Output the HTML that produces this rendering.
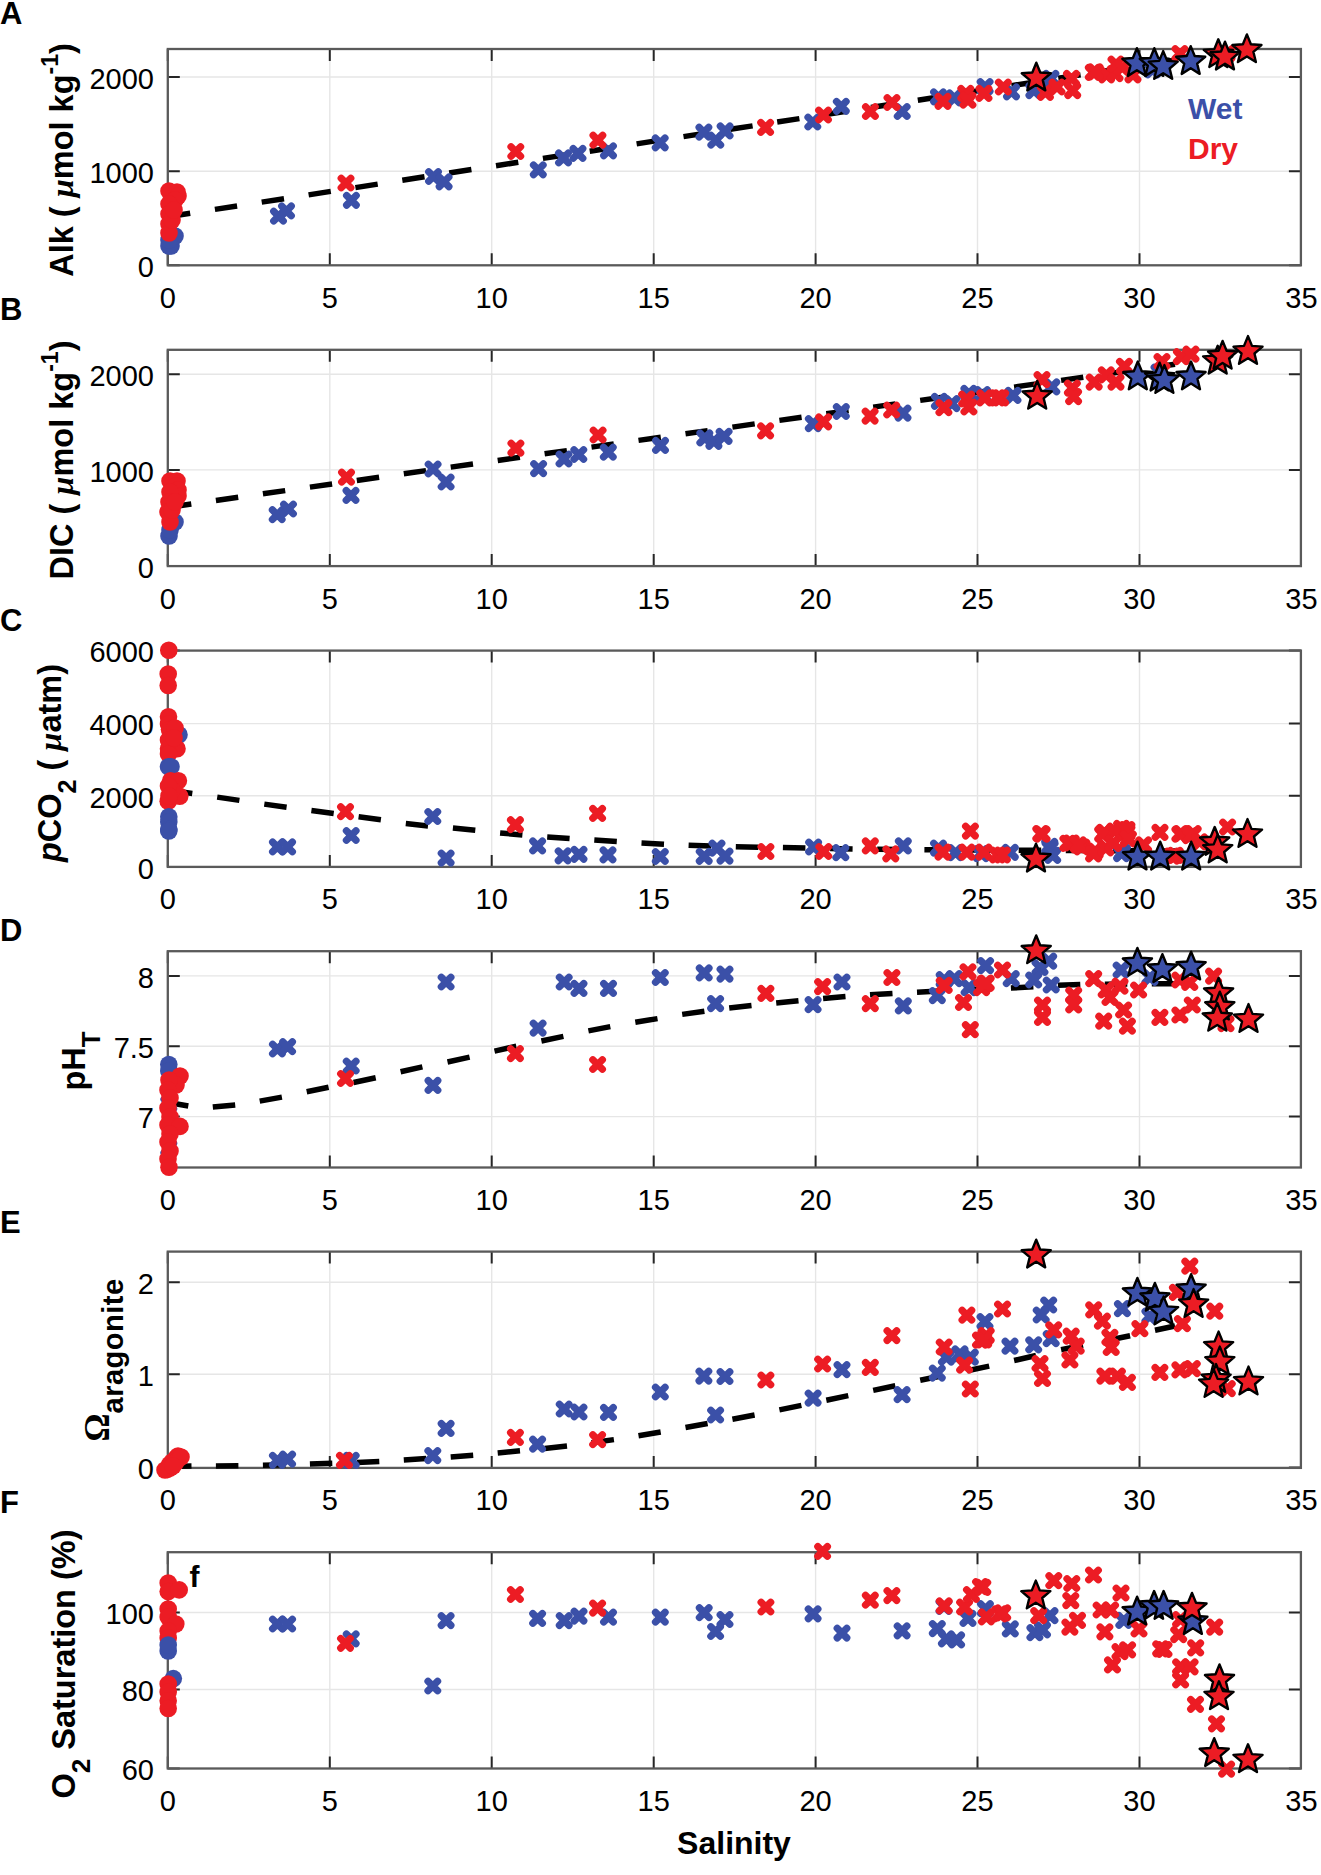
<!DOCTYPE html><html><head><meta charset="utf-8"><style>html,body{margin:0;padding:0;background:#fff;}svg{display:block}</style></head><body>
<svg width="1321" height="1875" viewBox="0 0 1321 1875" font-family="&quot;Liberation Sans&quot;, sans-serif">
<rect width="100%" height="100%" fill="#fff"/>
<defs>
<path id="st" d="M0.00,-15.30 L4.00,-5.50 L14.55,-4.73 L6.47,2.10 L8.99,12.38 L0.00,6.80 L-8.99,12.38 L-6.47,2.10 L-14.55,-4.73 L-4.00,-5.50Z" stroke="#000" stroke-width="2.4" stroke-linejoin="round"/>
<path id="xx" d="M-4.8 -4.8L4.8 4.8M-4.8 4.8L4.8 -4.8" stroke-width="7.2" stroke-linecap="round" fill="none"/>
</defs>
<path d="M329.8 49V265.3M491.7 49V265.3M653.7 49V265.3M815.6 49V265.3M977.5 49V265.3M1139.5 49V265.3M167.8 171.2H1300.9M167.8 77H1300.9" stroke="#e6e6e6" stroke-width="1.4" fill="none"/>
<path d="M167.8 265.3v-12M167.8 49v12M329.8 265.3v-12M329.8 49v12M491.7 265.3v-12M491.7 49v12M653.7 265.3v-12M653.7 49v12M815.6 265.3v-12M815.6 49v12M977.5 265.3v-12M977.5 49v12M1139.5 265.3v-12M1139.5 49v12M167.8 265.3h12M1300.9 265.3h-12M167.8 171.2h12M1300.9 171.2h-12M167.8 77h12M1300.9 77h-12" stroke="#262626" stroke-width="2" fill="none"/>
<rect x="167.8" y="49" width="1133.1" height="216.3" fill="none" stroke="#5a5a5a" stroke-width="2.3"/>
<path d="M168.0 216.7L190.2 213.2M214.9 209.4L237.1 206.0M261.7 202.1L284.0 198.7M308.6 194.9L330.8 191.4M355.4 187.6L377.7 184.1M402.3 180.3L424.5 176.8M449.2 173.0L471.4 169.5M496.0 165.7L518.3 162.3M542.9 158.4L565.1 155.0M589.7 151.2L612.0 147.7M636.6 143.9L658.8 140.4M683.5 136.6L705.7 133.1M730.3 129.3L752.6 125.9M777.2 122.0L799.4 118.6M824.0 114.7L846.3 111.3M870.9 107.5L893.1 104.0M917.8 100.2L940.0 96.7M964.6 92.9L986.9 89.4M1011.5 85.6L1033.7 82.2M1058.3 78.3L1080.6 74.9M1105.2 71.0L1127.4 67.6M1152.1 63.8L1174.3 60.3" fill="none" stroke="#000" stroke-width="5.5"/>
<g stroke="#3b50a8"></g>
<g fill="#3b50a8"><circle cx="169" cy="246" r="8.8"/><circle cx="171" cy="246" r="8.8"/><circle cx="175" cy="236" r="8.8"/><circle cx="169" cy="240" r="8.8"/></g>
<g fill="#ec1c24"><circle cx="169" cy="191" r="8.8"/><circle cx="177" cy="192" r="8.8"/><circle cx="178" cy="196" r="8.8"/><circle cx="175" cy="200" r="8.8"/><circle cx="169" cy="204" r="8.8"/><circle cx="169" cy="214" r="8.8"/><circle cx="169" cy="224" r="8.8"/><circle cx="169" cy="233" r="8.8"/><circle cx="172" cy="220" r="8.8"/><circle cx="174" cy="210" r="8.8"/></g>
<g stroke="#3b50a8"><use href="#xx" x="278.5" y="216.2"/><use href="#xx" x="286.5" y="210.9"/><use href="#xx" x="351.4" y="200.3"/><use href="#xx" x="433.5" y="176.5"/><use href="#xx" x="444.1" y="181.8"/><use href="#xx" x="538.3" y="169.8"/><use href="#xx" x="563.5" y="157.9"/><use href="#xx" x="578.0" y="153.4"/><use href="#xx" x="608.5" y="150.8"/><use href="#xx" x="660.2" y="142.8"/><use href="#xx" x="703.9" y="132.2"/><use href="#xx" x="715.8" y="140.2"/><use href="#xx" x="725.1" y="130.9"/><use href="#xx" x="812.8" y="122.0"/><use href="#xx" x="841.3" y="106.3"/><use href="#xx" x="902.2" y="111.5"/><use href="#xx" x="938.5" y="96.8"/><use href="#xx" x="954.4" y="97.9"/><use href="#xx" x="985.1" y="86.6"/><use href="#xx" x="1011.5" y="91.8"/><use href="#xx" x="1033.9" y="90.6"/><use href="#xx" x="1050.9" y="78.4"/><use href="#xx" x="1152.6" y="70.0"/></g>
<g stroke="#ec1c24"><use href="#xx" x="346.0" y="183.0"/><use href="#xx" x="515.8" y="151.5"/><use href="#xx" x="597.9" y="140.2"/><use href="#xx" x="765.6" y="127.4"/><use href="#xx" x="823.5" y="115.0"/><use href="#xx" x="870.4" y="111.5"/><use href="#xx" x="892.0" y="102.5"/><use href="#xx" x="943.0" y="101.3"/><use href="#xx" x="965.8" y="93.4"/><use href="#xx" x="968.0" y="100.2"/><use href="#xx" x="984.0" y="93.4"/><use href="#xx" x="1003.3" y="87.0"/><use href="#xx" x="1045.4" y="92.4"/><use href="#xx" x="1057.0" y="87.0"/><use href="#xx" x="1071.5" y="78.4"/><use href="#xx" x="1072.7" y="90.6"/><use href="#xx" x="1093.3" y="72.4"/><use href="#xx" x="1106.6" y="74.8"/><use href="#xx" x="1115.0" y="73.6"/><use href="#xx" x="1116.0" y="64.0"/><use href="#xx" x="1122.3" y="67.5"/><use href="#xx" x="1133.0" y="74.8"/><use href="#xx" x="1180.0" y="53.6"/><use href="#xx" x="1227.0" y="53.6"/><use href="#xx" x="1095.2" y="71.8"/></g>
<g fill="#3b50a8"><use href="#st" x="1136.9" y="63.5"/><use href="#st" x="1154.3" y="63.5"/><use href="#st" x="1163.2" y="66.4"/><use href="#st" x="1190.7" y="61.5"/></g>
<g fill="#ec1c24"><use href="#st" x="1036.3" y="78.0"/><use href="#st" x="1218.3" y="54.6"/><use href="#st" x="1225.0" y="57.0"/><use href="#st" x="1246.9" y="49.7"/></g>
<text x="167.8" y="307.8" font-size="29" text-anchor="middle">0</text>
<text x="329.8" y="307.8" font-size="29" text-anchor="middle">5</text>
<text x="491.7" y="307.8" font-size="29" text-anchor="middle">10</text>
<text x="653.7" y="307.8" font-size="29" text-anchor="middle">15</text>
<text x="815.6" y="307.8" font-size="29" text-anchor="middle">20</text>
<text x="977.5" y="307.8" font-size="29" text-anchor="middle">25</text>
<text x="1139.5" y="307.8" font-size="29" text-anchor="middle">30</text>
<text x="1301.5" y="307.8" font-size="29" text-anchor="middle">35</text>
<text x="154" y="277.1" font-size="29" text-anchor="end">0</text>
<text x="154" y="183.0" font-size="29" text-anchor="end">1000</text>
<text x="154" y="88.8" font-size="29" text-anchor="end">2000</text>
<path d="M329.8 349.8V566.1M491.7 349.8V566.1M653.7 349.8V566.1M815.6 349.8V566.1M977.5 349.8V566.1M1139.5 349.8V566.1M167.8 469.9H1300.9M167.8 374.2H1300.9" stroke="#e6e6e6" stroke-width="1.4" fill="none"/>
<path d="M167.8 566.1v-12M167.8 349.8v12M329.8 566.1v-12M329.8 349.8v12M491.7 566.1v-12M491.7 349.8v12M653.7 566.1v-12M653.7 349.8v12M815.6 566.1v-12M815.6 349.8v12M977.5 566.1v-12M977.5 349.8v12M1139.5 566.1v-12M1139.5 349.8v12M167.8 566.1h12M1300.9 566.1h-12M167.8 469.9h12M1300.9 469.9h-12M167.8 374.2h12M1300.9 374.2h-12" stroke="#262626" stroke-width="2" fill="none"/>
<rect x="167.8" y="349.8" width="1133.1" height="216.3" fill="none" stroke="#5a5a5a" stroke-width="2.3"/>
<path d="M169.0 507.2L191.3 504.0M215.9 500.5L238.2 497.3M262.9 493.8L285.2 490.6M309.9 487.1L332.1 484.0M356.8 480.5L379.1 477.3M403.8 473.8L426.0 470.6M450.7 467.1L473.0 464.0M497.7 460.5L519.9 457.3M544.6 453.8L566.9 450.6M591.5 447.1L613.8 443.9M638.5 440.4L660.8 437.3M685.5 433.8L707.7 430.6M732.4 427.1L754.7 423.9M779.4 420.4L801.6 417.3M826.3 413.8L848.6 410.6M873.2 407.1L895.5 403.9M920.2 400.4L942.5 397.2M967.2 393.7L989.4 390.6M1014.1 387.1L1036.4 383.9M1061.1 380.4L1083.3 377.2M1108.0 373.7L1130.3 370.6M1155.0 367.0L1175.0 364.2" fill="none" stroke="#000" stroke-width="5.5"/>
<g stroke="#3b50a8"></g>
<g fill="#3b50a8"><circle cx="169" cy="536" r="8.8"/><circle cx="170" cy="530" r="8.8"/><circle cx="175" cy="522" r="8.8"/></g>
<g fill="#ec1c24"><circle cx="170" cy="481" r="8.8"/><circle cx="177" cy="481" r="8.8"/><circle cx="176" cy="486" r="8.8"/><circle cx="178" cy="490" r="8.8"/><circle cx="178" cy="496" r="8.8"/><circle cx="170" cy="492" r="8.8"/><circle cx="169" cy="502" r="8.8"/><circle cx="168" cy="512" r="8.8"/><circle cx="170" cy="522" r="8.8"/><circle cx="172" cy="510" r="8.8"/><circle cx="175" cy="502" r="8.8"/></g>
<g stroke="#3b50a8"><use href="#xx" x="277.2" y="514.7"/><use href="#xx" x="288.5" y="509.0"/><use href="#xx" x="351.0" y="495.4"/><use href="#xx" x="433.1" y="469.0"/><use href="#xx" x="446.1" y="482.0"/><use href="#xx" x="538.6" y="468.6"/><use href="#xx" x="564.0" y="459.0"/><use href="#xx" x="578.8" y="454.5"/><use href="#xx" x="608.3" y="452.2"/><use href="#xx" x="660.5" y="445.4"/><use href="#xx" x="704.8" y="437.9"/><use href="#xx" x="713.9" y="441.3"/><use href="#xx" x="724.1" y="436.3"/><use href="#xx" x="813.3" y="423.6"/><use href="#xx" x="841.3" y="411.5"/><use href="#xx" x="903.0" y="413.1"/><use href="#xx" x="939.4" y="401.3"/><use href="#xx" x="951.9" y="403.6"/><use href="#xx" x="968.9" y="393.4"/><use href="#xx" x="982.5" y="394.5"/><use href="#xx" x="1013.0" y="395.4"/><use href="#xx" x="1051.8" y="386.9"/><use href="#xx" x="1159.0" y="372.0"/></g>
<g stroke="#ec1c24"><use href="#xx" x="346.5" y="477.2"/><use href="#xx" x="515.9" y="448.1"/><use href="#xx" x="598.1" y="435.0"/><use href="#xx" x="765.6" y="430.8"/><use href="#xx" x="823.6" y="421.8"/><use href="#xx" x="870.1" y="416.1"/><use href="#xx" x="891.7" y="410.0"/><use href="#xx" x="943.9" y="407.7"/><use href="#xx" x="966.6" y="399.0"/><use href="#xx" x="968.9" y="407.0"/><use href="#xx" x="984.8" y="397.9"/><use href="#xx" x="1000.7" y="397.9"/><use href="#xx" x="997.3" y="397.8"/><use href="#xx" x="1042.0" y="379.7"/><use href="#xx" x="1072.4" y="388.1"/><use href="#xx" x="1073.6" y="396.6"/><use href="#xx" x="1094.2" y="382.1"/><use href="#xx" x="1106.3" y="374.8"/><use href="#xx" x="1116.0" y="382.1"/><use href="#xx" x="1124.4" y="366.3"/><use href="#xx" x="1162.0" y="361.5"/><use href="#xx" x="1181.4" y="356.6"/><use href="#xx" x="1191.0" y="354.2"/></g>
<g fill="#3b50a8"><use href="#st" x="1137.8" y="376.8"/><use href="#st" x="1159.6" y="378.0"/><use href="#st" x="1164.4" y="380.4"/><use href="#st" x="1191.0" y="376.8"/></g>
<g fill="#ec1c24"><use href="#st" x="1037.2" y="396.2"/><use href="#st" x="1217.7" y="361.1"/><use href="#st" x="1222.6" y="356.2"/><use href="#st" x="1248.0" y="351.4"/></g>
<text x="167.8" y="608.6" font-size="29" text-anchor="middle">0</text>
<text x="329.8" y="608.6" font-size="29" text-anchor="middle">5</text>
<text x="491.7" y="608.6" font-size="29" text-anchor="middle">10</text>
<text x="653.7" y="608.6" font-size="29" text-anchor="middle">15</text>
<text x="815.6" y="608.6" font-size="29" text-anchor="middle">20</text>
<text x="977.5" y="608.6" font-size="29" text-anchor="middle">25</text>
<text x="1139.5" y="608.6" font-size="29" text-anchor="middle">30</text>
<text x="1301.5" y="608.6" font-size="29" text-anchor="middle">35</text>
<text x="154" y="577.9" font-size="29" text-anchor="end">0</text>
<text x="154" y="481.7" font-size="29" text-anchor="end">1000</text>
<text x="154" y="386.0" font-size="29" text-anchor="end">2000</text>
<path d="M329.8 650.6V866.9M491.7 650.6V866.9M653.7 650.6V866.9M815.6 650.6V866.9M977.5 650.6V866.9M1139.5 650.6V866.9M167.8 795.8H1300.9M167.8 723.6H1300.9" stroke="#e6e6e6" stroke-width="1.4" fill="none"/>
<path d="M167.8 866.9v-12M167.8 650.6v12M329.8 866.9v-12M329.8 650.6v12M491.7 866.9v-12M491.7 650.6v12M653.7 866.9v-12M653.7 650.6v12M815.6 866.9v-12M815.6 650.6v12M977.5 866.9v-12M977.5 650.6v12M1139.5 866.9v-12M1139.5 650.6v12M167.8 866.9h12M1300.9 866.9h-12M167.8 795.8h12M1300.9 795.8h-12M167.8 723.6h12M1300.9 723.6h-12M167.8 650.6h12M1300.9 650.6h-12" stroke="#262626" stroke-width="2" fill="none"/>
<rect x="167.8" y="650.6" width="1133.1" height="216.3" fill="none" stroke="#5a5a5a" stroke-width="2.3"/>
<path d="M170.0 790.3L192.3 793.5M217.2 797.1L239.4 800.4M264.3 804.1L286.6 807.2M311.4 810.5L333.7 813.5M358.6 816.7L380.9 819.8M405.8 823.5L428.0 825.9M452.9 827.9L475.3 830.2M500.1 832.9L522.4 835.0M547.2 837.0L569.6 838.6M594.3 840.0L616.8 841.5M641.5 843.1L664.0 844.3M688.6 845.3L711.1 846.1M735.8 846.7L758.3 847.2M782.9 847.5L805.4 848.0M830.1 848.5L852.6 848.9M877.2 849.2L899.7 849.4M924.4 849.7L946.9 849.8M971.5 850.0L994.0 850.1M1018.7 850.2L1041.2 850.3M1065.8 850.4L1088.3 850.6M1113.0 850.7L1135.5 850.8M1160.2 850.9L1175.0 851.0" fill="none" stroke="#000" stroke-width="5.5"/>
<g stroke="#3b50a8"></g>
<g fill="#3b50a8"><circle cx="179" cy="734.8" r="8.8"/></g>
<g fill="#ec1c24"><circle cx="168.8" cy="650.2" r="8.8"/><circle cx="168.2" cy="674" r="8.8"/><circle cx="168.2" cy="685.5" r="8.8"/><circle cx="168.5" cy="716.8" r="8.8"/><circle cx="168.5" cy="724" r="8.8"/><circle cx="169.5" cy="729.6" r="8.8"/><circle cx="168.5" cy="740" r="8.8"/><circle cx="168.5" cy="748.8" r="8.8"/><circle cx="177" cy="748.8" r="8.8"/><circle cx="168.5" cy="754" r="8.8"/><circle cx="175" cy="728" r="8.8"/><circle cx="174" cy="738" r="8.8"/></g>
<g fill="#3b50a8"><circle cx="168.5" cy="766.8" r="8.8"/><circle cx="171" cy="766.8" r="8.8"/></g>
<g fill="#ec1c24"><circle cx="170.7" cy="780.8" r="8.8"/><circle cx="178.4" cy="780.8" r="8.8"/><circle cx="179.7" cy="796.2" r="8.8"/><circle cx="168.2" cy="801.3" r="8.8"/><circle cx="172" cy="790" r="8.8"/><circle cx="168.5" cy="786" r="8.8"/><circle cx="169" cy="796" r="8.8"/></g>
<g fill="#3b50a8"><circle cx="168.8" cy="816.7" r="8.8"/><circle cx="168.8" cy="822" r="8.8"/><circle cx="168.8" cy="829.5" r="8.8"/><circle cx="168.8" cy="831" r="8.8"/></g>
<g stroke="#3b50a8"><use href="#xx" x="277.4" y="846.9"/><use href="#xx" x="287.6" y="846.9"/><use href="#xx" x="351.2" y="835.5"/><use href="#xx" x="432.8" y="816.5"/><use href="#xx" x="446.1" y="858.1"/><use href="#xx" x="537.6" y="845.9"/><use href="#xx" x="563.1" y="855.8"/><use href="#xx" x="579.0" y="854.3"/><use href="#xx" x="608.0" y="854.9"/><use href="#xx" x="660.3" y="856.5"/><use href="#xx" x="704.2" y="856.3"/><use href="#xx" x="717.0" y="848.1"/><use href="#xx" x="725.0" y="856.1"/><use href="#xx" x="813.6" y="847.0"/><use href="#xx" x="840.8" y="852.7"/><use href="#xx" x="903.3" y="845.9"/><use href="#xx" x="938.5" y="848.1"/><use href="#xx" x="955.5" y="852.7"/><use href="#xx" x="981.2" y="853.6"/><use href="#xx" x="1010.3" y="852.3"/><use href="#xx" x="1050.1" y="848.3"/><use href="#xx" x="1121.6" y="853.6"/><use href="#xx" x="1049.7" y="846.3"/><use href="#xx" x="1052.7" y="855.4"/><use href="#xx" x="1122.4" y="852.4"/></g>
<g stroke="#ec1c24"><use href="#xx" x="345.5" y="811.7"/><use href="#xx" x="515.4" y="824.7"/><use href="#xx" x="597.6" y="813.4"/><use href="#xx" x="765.9" y="851.5"/><use href="#xx" x="823.8" y="851.5"/><use href="#xx" x="870.3" y="845.9"/><use href="#xx" x="890.8" y="853.8"/><use href="#xx" x="943.0" y="852.2"/><use href="#xx" x="970.4" y="831.1"/><use href="#xx" x="966.9" y="852.2"/><use href="#xx" x="983.9" y="852.2"/><use href="#xx" x="997.5" y="855.0"/><use href="#xx" x="1002.4" y="855.0"/><use href="#xx" x="1040.8" y="833.7"/><use href="#xx" x="1071.3" y="843.0"/><use href="#xx" x="1081.9" y="847.0"/><use href="#xx" x="1095.1" y="851.0"/><use href="#xx" x="1104.4" y="832.4"/><use href="#xx" x="1113.7" y="843.0"/><use href="#xx" x="1121.6" y="828.4"/><use href="#xx" x="1126.9" y="832.4"/><use href="#xx" x="1160.0" y="832.4"/><use href="#xx" x="1181.2" y="833.7"/><use href="#xx" x="1193.2" y="833.7"/><use href="#xx" x="1172.0" y="856.2"/><use href="#xx" x="1227.6" y="827.0"/><use href="#xx" x="1042.1" y="834.2"/><use href="#xx" x="1067.9" y="843.3"/><use href="#xx" x="1078.4" y="844.8"/><use href="#xx" x="1093.6" y="853.9"/><use href="#xx" x="1105.7" y="847.9"/><use href="#xx" x="1102.7" y="834.2"/><use href="#xx" x="1114.8" y="831.2"/><use href="#xx" x="1126.9" y="829.7"/><use href="#xx" x="1128.4" y="838.8"/><use href="#xx" x="1113.3" y="843.3"/><use href="#xx" x="1179.9" y="834.2"/><use href="#xx" x="1190.5" y="835.7"/><use href="#xx" x="1199.6" y="841.8"/><use href="#xx" x="1175.3" y="855.4"/><use href="#xx" x="1143.6" y="844.8"/></g>
<g fill="#3b50a8"><use href="#st" x="1137.5" y="857.0"/><use href="#st" x="1160.2" y="857.0"/><use href="#st" x="1191.2" y="857.0"/></g>
<g fill="#ec1c24"><use href="#st" x="1036.0" y="859.0"/><use href="#st" x="1214.7" y="842.3"/><use href="#st" x="1217.7" y="849.9"/><use href="#st" x="1247.5" y="834.4"/></g>
<text x="167.8" y="909.4" font-size="29" text-anchor="middle">0</text>
<text x="329.8" y="909.4" font-size="29" text-anchor="middle">5</text>
<text x="491.7" y="909.4" font-size="29" text-anchor="middle">10</text>
<text x="653.7" y="909.4" font-size="29" text-anchor="middle">15</text>
<text x="815.6" y="909.4" font-size="29" text-anchor="middle">20</text>
<text x="977.5" y="909.4" font-size="29" text-anchor="middle">25</text>
<text x="1139.5" y="909.4" font-size="29" text-anchor="middle">30</text>
<text x="1301.5" y="909.4" font-size="29" text-anchor="middle">35</text>
<text x="154" y="878.7" font-size="29" text-anchor="end">0</text>
<text x="154" y="807.6" font-size="29" text-anchor="end">2000</text>
<text x="154" y="735.4" font-size="29" text-anchor="end">4000</text>
<text x="154" y="662.4" font-size="29" text-anchor="end">6000</text>
<path d="M329.8 951.2V1167.5M491.7 951.2V1167.5M653.7 951.2V1167.5M815.6 951.2V1167.5M977.5 951.2V1167.5M1139.5 951.2V1167.5M167.8 1116.6H1300.9M167.8 1046.3H1300.9M167.8 975.9H1300.9" stroke="#e6e6e6" stroke-width="1.4" fill="none"/>
<path d="M167.8 1167.5v-12M167.8 951.2v12M329.8 1167.5v-12M329.8 951.2v12M491.7 1167.5v-12M491.7 951.2v12M653.7 1167.5v-12M653.7 951.2v12M815.6 1167.5v-12M815.6 951.2v12M977.5 1167.5v-12M977.5 951.2v12M1139.5 1167.5v-12M1139.5 951.2v12M167.8 1116.6h12M1300.9 1116.6h-12M167.8 1046.3h12M1300.9 1046.3h-12M167.8 975.9h12M1300.9 975.9h-12" stroke="#262626" stroke-width="2" fill="none"/>
<rect x="167.8" y="951.2" width="1133.1" height="216.3" fill="none" stroke="#5a5a5a" stroke-width="2.3"/>
<path d="M165.8 1102.0L188.3 1106.0M212.8 1107.1L235.2 1104.9M259.7 1101.1L281.9 1097.1M306.7 1091.7L328.6 1087.2M353.6 1082.5L375.7 1077.8M400.6 1071.8L422.4 1066.9M447.5 1062.0L469.6 1057.1M494.5 1051.1L516.3 1046.2M541.4 1041.0L563.4 1036.4M588.4 1030.9L610.3 1026.6M635.3 1022.3L657.5 1018.6M682.2 1014.4L704.4 1011.2M729.2 1008.1L751.5 1005.6M776.2 1003.1L798.5 1000.8M823.1 998.5L845.5 996.6M870.0 994.8L892.5 993.4M917.0 992.2L939.5 991.1M964.0 990.0L986.4 989.0M1010.9 988.0L1033.4 986.8M1057.9 985.3L1080.3 984.4M1104.8 984.2L1127.3 984.0M1151.8 983.8L1174.2 983.7" fill="none" stroke="#000" stroke-width="5.5"/>
<g stroke="#3b50a8"><use href="#xx" x="168.8" y="1104.0"/><use href="#xx" x="168.8" y="1148.0"/></g>
<g fill="#3b50a8"><circle cx="168.8" cy="1064.5" r="8.8"/><circle cx="168.8" cy="1071" r="8.8"/></g>
<g fill="#ec1c24"><circle cx="180" cy="1076" r="8.8"/><circle cx="176" cy="1085" r="8.8"/><circle cx="169" cy="1080" r="8.8"/><circle cx="168" cy="1090" r="8.8"/><circle cx="170" cy="1098" r="8.8"/><circle cx="168" cy="1108" r="8.8"/><circle cx="170" cy="1117" r="8.8"/><circle cx="168" cy="1125" r="8.8"/><circle cx="180" cy="1126.4" r="8.8"/><circle cx="170" cy="1134" r="8.8"/><circle cx="168" cy="1142" r="8.8"/><circle cx="170" cy="1151" r="8.8"/><circle cx="168" cy="1159" r="8.8"/><circle cx="169" cy="1167.2" r="8.8"/></g>
<g stroke="#3b50a8"><use href="#xx" x="277.4" y="1049.0"/><use href="#xx" x="287.6" y="1046.7"/><use href="#xx" x="351.2" y="1066.0"/><use href="#xx" x="433.0" y="1085.4"/><use href="#xx" x="446.1" y="982.0"/><use href="#xx" x="538.1" y="1028.1"/><use href="#xx" x="564.2" y="982.0"/><use href="#xx" x="579.0" y="988.4"/><use href="#xx" x="608.5" y="988.4"/><use href="#xx" x="660.3" y="977.5"/><use href="#xx" x="704.2" y="972.9"/><use href="#xx" x="715.6" y="1003.6"/><use href="#xx" x="725.0" y="974.1"/><use href="#xx" x="813.1" y="1004.7"/><use href="#xx" x="842.0" y="982.0"/><use href="#xx" x="903.3" y="1005.9"/><use href="#xx" x="937.3" y="995.6"/><use href="#xx" x="944.2" y="979.7"/><use href="#xx" x="954.4" y="978.6"/><use href="#xx" x="969.1" y="987.7"/><use href="#xx" x="985.6" y="965.6"/><use href="#xx" x="1011.2" y="978.7"/><use href="#xx" x="1048.7" y="961.2"/><use href="#xx" x="1040.0" y="967.5"/><use href="#xx" x="1033.7" y="980.0"/><use href="#xx" x="1051.2" y="985.0"/><use href="#xx" x="1121.1" y="970.0"/><use href="#xx" x="1149.9" y="977.5"/></g>
<g stroke="#ec1c24"><use href="#xx" x="345.5" y="1078.5"/><use href="#xx" x="515.4" y="1053.6"/><use href="#xx" x="597.6" y="1064.5"/><use href="#xx" x="765.9" y="993.4"/><use href="#xx" x="822.6" y="986.6"/><use href="#xx" x="870.3" y="1003.6"/><use href="#xx" x="891.9" y="977.5"/><use href="#xx" x="944.2" y="985.4"/><use href="#xx" x="968.0" y="971.8"/><use href="#xx" x="963.5" y="1002.5"/><use href="#xx" x="970.3" y="1029.7"/><use href="#xx" x="981.6" y="987.7"/><use href="#xx" x="986.2" y="983.2"/><use href="#xx" x="985.0" y="983.7"/><use href="#xx" x="1002.5" y="970.0"/><use href="#xx" x="1042.5" y="1005.0"/><use href="#xx" x="1042.5" y="1017.4"/><use href="#xx" x="1073.7" y="995.0"/><use href="#xx" x="1073.7" y="1005.0"/><use href="#xx" x="1093.7" y="978.7"/><use href="#xx" x="1106.2" y="990.0"/><use href="#xx" x="1110.0" y="997.5"/><use href="#xx" x="1120.0" y="986.2"/><use href="#xx" x="1103.7" y="1021.2"/><use href="#xx" x="1123.6" y="1010.0"/><use href="#xx" x="1127.4" y="1026.2"/><use href="#xx" x="1138.6" y="990.0"/><use href="#xx" x="1159.9" y="1017.4"/><use href="#xx" x="1179.9" y="1015.0"/><use href="#xx" x="1192.3" y="1005.0"/><use href="#xx" x="1179.9" y="980.0"/><use href="#xx" x="1189.8" y="982.5"/><use href="#xx" x="1213.6" y="976.2"/><use href="#xx" x="1226.0" y="1023.7"/></g>
<g fill="#3b50a8"><use href="#st" x="1137.4" y="963.2"/><use href="#st" x="1162.4" y="969.5"/><use href="#st" x="1191.1" y="967.0"/></g>
<g fill="#ec1c24"><use href="#st" x="1036.2" y="950.7"/><use href="#st" x="1218.6" y="993.2"/><use href="#st" x="1219.8" y="1007.0"/><use href="#st" x="1217.3" y="1018.2"/><use href="#st" x="1248.5" y="1019.4"/></g>
<text x="167.8" y="1210.0" font-size="29" text-anchor="middle">0</text>
<text x="329.8" y="1210.0" font-size="29" text-anchor="middle">5</text>
<text x="491.7" y="1210.0" font-size="29" text-anchor="middle">10</text>
<text x="653.7" y="1210.0" font-size="29" text-anchor="middle">15</text>
<text x="815.6" y="1210.0" font-size="29" text-anchor="middle">20</text>
<text x="977.5" y="1210.0" font-size="29" text-anchor="middle">25</text>
<text x="1139.5" y="1210.0" font-size="29" text-anchor="middle">30</text>
<text x="1301.5" y="1210.0" font-size="29" text-anchor="middle">35</text>
<text x="154" y="1128.4" font-size="29" text-anchor="end">7</text>
<text x="154" y="1058.1" font-size="29" text-anchor="end">7.5</text>
<text x="154" y="987.7" font-size="29" text-anchor="end">8</text>
<path d="M329.8 1251.6V1467.9M491.7 1251.6V1467.9M653.7 1251.6V1467.9M815.6 1251.6V1467.9M977.5 1251.6V1467.9M1139.5 1251.6V1467.9M167.8 1374.2H1300.9M167.8 1282.2H1300.9" stroke="#e6e6e6" stroke-width="1.4" fill="none"/>
<path d="M167.8 1467.9v-12M167.8 1251.6v12M329.8 1467.9v-12M329.8 1251.6v12M491.7 1467.9v-12M491.7 1251.6v12M653.7 1467.9v-12M653.7 1251.6v12M815.6 1467.9v-12M815.6 1251.6v12M977.5 1467.9v-12M977.5 1251.6v12M1139.5 1467.9v-12M1139.5 1251.6v12M167.8 1467.6h12M1300.9 1467.6h-12M167.8 1374.2h12M1300.9 1374.2h-12M167.8 1282.2h12M1300.9 1282.2h-12" stroke="#262626" stroke-width="2" fill="none"/>
<rect x="167.8" y="1251.6" width="1133.1" height="216.3" fill="none" stroke="#5a5a5a" stroke-width="2.3"/>
<path d="M169.0 1466.5L191.5 1466.0M215.9 1466.0L238.4 1465.8M262.9 1465.2L285.4 1464.7M309.9 1464.0L332.3 1463.3M356.8 1462.5L379.3 1461.4M403.8 1460.0L426.2 1458.6M450.7 1457.0L473.2 1455.3M497.7 1453.0L520.0 1450.8M544.6 1448.5L567.0 1446.0M591.5 1442.8L613.9 1439.6M638.5 1435.7L660.7 1432.0M685.5 1427.5L707.6 1423.5M732.4 1419.2L754.6 1415.0M779.4 1409.9L801.4 1405.4M826.3 1400.2L848.3 1395.6M873.2 1390.4L895.3 1385.7M920.2 1380.3L942.2 1375.7M967.2 1370.8L989.2 1366.1M1014.1 1360.5L1036.0 1355.5M1061.1 1349.7L1083.0 1345.2M1108.0 1340.3L1130.1 1335.7M1155.0 1330.3L1175.0 1326.0" fill="none" stroke="#000" stroke-width="5.5"/>
<g stroke="#3b50a8"></g>
<g fill="#ec1c24"><circle cx="169.5" cy="1464.8" r="8.8"/><circle cx="176.3" cy="1458" r="8.8"/><circle cx="167.3" cy="1469.4" r="8.8"/><circle cx="172" cy="1462" r="8.8"/><circle cx="178" cy="1456" r="8.8"/><circle cx="176" cy="1462" r="8.8"/><circle cx="181" cy="1457" r="8.8"/><circle cx="170" cy="1468" r="8.8"/><circle cx="165" cy="1470" r="8.8"/><circle cx="173" cy="1466" r="8.8"/></g>
<g stroke="#3b50a8"><use href="#xx" x="277.4" y="1460.3"/><use href="#xx" x="287.6" y="1459.2"/><use href="#xx" x="351.2" y="1460.3"/><use href="#xx" x="432.8" y="1455.6"/><use href="#xx" x="446.1" y="1428.4"/><use href="#xx" x="537.6" y="1444.2"/><use href="#xx" x="564.2" y="1409.0"/><use href="#xx" x="579.0" y="1412.0"/><use href="#xx" x="608.5" y="1412.4"/><use href="#xx" x="660.3" y="1392.0"/><use href="#xx" x="703.9" y="1376.1"/><use href="#xx" x="715.6" y="1415.0"/><use href="#xx" x="725.0" y="1376.5"/><use href="#xx" x="813.1" y="1398.1"/><use href="#xx" x="842.0" y="1369.7"/><use href="#xx" x="902.1" y="1394.7"/><use href="#xx" x="937.3" y="1373.1"/><use href="#xx" x="946.4" y="1357.2"/><use href="#xx" x="960.0" y="1353.8"/><use href="#xx" x="970.3" y="1357.2"/><use href="#xx" x="985.0" y="1321.6"/><use href="#xx" x="1010.0" y="1346.2"/><use href="#xx" x="1048.7" y="1305.0"/><use href="#xx" x="1041.2" y="1315.0"/><use href="#xx" x="1033.7" y="1344.9"/><use href="#xx" x="1051.2" y="1338.7"/><use href="#xx" x="1122.4" y="1308.7"/><use href="#xx" x="1149.9" y="1316.2"/></g>
<g stroke="#ec1c24"><use href="#xx" x="344.4" y="1460.3"/><use href="#xx" x="515.4" y="1437.4"/><use href="#xx" x="597.6" y="1439.7"/><use href="#xx" x="765.9" y="1380.0"/><use href="#xx" x="822.6" y="1364.0"/><use href="#xx" x="870.3" y="1367.4"/><use href="#xx" x="891.9" y="1335.6"/><use href="#xx" x="944.2" y="1347.0"/><use href="#xx" x="964.6" y="1365.2"/><use href="#xx" x="970.3" y="1389.0"/><use href="#xx" x="966.9" y="1315.2"/><use href="#xx" x="980.5" y="1340.2"/><use href="#xx" x="986.2" y="1335.6"/><use href="#xx" x="983.7" y="1339.9"/><use href="#xx" x="1002.5" y="1309.0"/><use href="#xx" x="1053.7" y="1329.9"/><use href="#xx" x="1040.0" y="1363.5"/><use href="#xx" x="1042.5" y="1378.5"/><use href="#xx" x="1071.2" y="1336.2"/><use href="#xx" x="1076.2" y="1346.2"/><use href="#xx" x="1069.9" y="1359.9"/><use href="#xx" x="1093.7" y="1309.9"/><use href="#xx" x="1102.4" y="1321.2"/><use href="#xx" x="1109.9" y="1337.4"/><use href="#xx" x="1111.2" y="1347.4"/><use href="#xx" x="1104.9" y="1376.1"/><use href="#xx" x="1117.4" y="1376.1"/><use href="#xx" x="1127.4" y="1382.4"/><use href="#xx" x="1139.9" y="1328.7"/><use href="#xx" x="1159.9" y="1372.4"/><use href="#xx" x="1179.9" y="1369.9"/><use href="#xx" x="1192.3" y="1368.6"/><use href="#xx" x="1189.8" y="1266.2"/><use href="#xx" x="1177.4" y="1292.4"/><use href="#xx" x="1182.4" y="1323.7"/><use href="#xx" x="1214.8" y="1311.2"/><use href="#xx" x="1227.3" y="1388.6"/></g>
<g fill="#3b50a8"><use href="#st" x="1137.4" y="1293.2"/><use href="#st" x="1154.9" y="1298.2"/><use href="#st" x="1163.6" y="1311.9"/><use href="#st" x="1191.1" y="1289.5"/></g>
<g fill="#ec1c24"><use href="#st" x="1036.2" y="1255.0"/><use href="#st" x="1193.6" y="1304.4"/><use href="#st" x="1218.6" y="1346.9"/><use href="#st" x="1219.8" y="1361.9"/><use href="#st" x="1216.1" y="1379.4"/><use href="#st" x="1213.6" y="1384.4"/><use href="#st" x="1248.5" y="1381.9"/></g>
<text x="167.8" y="1510.4" font-size="29" text-anchor="middle">0</text>
<text x="329.8" y="1510.4" font-size="29" text-anchor="middle">5</text>
<text x="491.7" y="1510.4" font-size="29" text-anchor="middle">10</text>
<text x="653.7" y="1510.4" font-size="29" text-anchor="middle">15</text>
<text x="815.6" y="1510.4" font-size="29" text-anchor="middle">20</text>
<text x="977.5" y="1510.4" font-size="29" text-anchor="middle">25</text>
<text x="1139.5" y="1510.4" font-size="29" text-anchor="middle">30</text>
<text x="1301.5" y="1510.4" font-size="29" text-anchor="middle">35</text>
<text x="154" y="1479.4" font-size="29" text-anchor="end">0</text>
<text x="154" y="1386.0" font-size="29" text-anchor="end">1</text>
<text x="154" y="1294.0" font-size="29" text-anchor="end">2</text>
<path d="M329.8 1552.2V1768.5M491.7 1552.2V1768.5M653.7 1552.2V1768.5M815.6 1552.2V1768.5M977.5 1552.2V1768.5M1139.5 1552.2V1768.5M167.8 1689.5H1300.9M167.8 1612.5H1300.9" stroke="#e6e6e6" stroke-width="1.4" fill="none"/>
<path d="M167.8 1768.5v-12M167.8 1552.2v12M329.8 1768.5v-12M329.8 1552.2v12M491.7 1768.5v-12M491.7 1552.2v12M653.7 1768.5v-12M653.7 1552.2v12M815.6 1768.5v-12M815.6 1552.2v12M977.5 1768.5v-12M977.5 1552.2v12M1139.5 1768.5v-12M1139.5 1552.2v12M167.8 1768.5h12M1300.9 1768.5h-12M167.8 1689.5h12M1300.9 1689.5h-12M167.8 1612.5h12M1300.9 1612.5h-12" stroke="#262626" stroke-width="2" fill="none"/>
<rect x="167.8" y="1552.2" width="1133.1" height="216.3" fill="none" stroke="#5a5a5a" stroke-width="2.3"/>
<g stroke="#3b50a8"></g>
<g fill="#ec1c24"><circle cx="168.2" cy="1583" r="8.8"/><circle cx="168.2" cy="1591.6" r="8.8"/><circle cx="179.2" cy="1589.9" r="8.8"/><circle cx="168.2" cy="1609" r="8.8"/><circle cx="168.2" cy="1617" r="8.8"/><circle cx="175.8" cy="1624" r="8.8"/><circle cx="168.2" cy="1631" r="8.8"/><circle cx="168.2" cy="1638" r="8.8"/></g>
<g fill="#3b50a8"><circle cx="168.2" cy="1651" r="8.8"/><circle cx="168.2" cy="1645" r="8.8"/></g>
<g fill="#3b50a8"><circle cx="173.3" cy="1678.6" r="8.8"/></g>
<g fill="#ec1c24"><circle cx="168.2" cy="1684" r="8.8"/><circle cx="168.2" cy="1692" r="8.8"/><circle cx="168.2" cy="1700.8" r="8.8"/><circle cx="168.2" cy="1708.5" r="8.8"/></g>
<g stroke="#3b50a8"><use href="#xx" x="944.0" y="1606.5"/><use href="#xx" x="277.4" y="1624.0"/><use href="#xx" x="287.6" y="1624.0"/><use href="#xx" x="351.2" y="1638.8"/><use href="#xx" x="432.8" y="1686.0"/><use href="#xx" x="446.1" y="1620.6"/><use href="#xx" x="537.6" y="1618.4"/><use href="#xx" x="564.2" y="1620.6"/><use href="#xx" x="579.0" y="1616.1"/><use href="#xx" x="608.5" y="1617.2"/><use href="#xx" x="660.3" y="1617.2"/><use href="#xx" x="704.2" y="1612.7"/><use href="#xx" x="715.6" y="1631.5"/><use href="#xx" x="725.0" y="1619.5"/><use href="#xx" x="813.1" y="1613.8"/><use href="#xx" x="842.0" y="1633.1"/><use href="#xx" x="902.1" y="1630.8"/><use href="#xx" x="937.3" y="1628.6"/><use href="#xx" x="946.4" y="1638.8"/><use href="#xx" x="956.6" y="1639.9"/><use href="#xx" x="968.0" y="1618.4"/><use href="#xx" x="985.4" y="1608.7"/><use href="#xx" x="1010.3" y="1628.9"/><use href="#xx" x="1050.0" y="1615.7"/><use href="#xx" x="1034.9" y="1632.7"/><use href="#xx" x="1042.5" y="1629.9"/><use href="#xx" x="1123.8" y="1620.4"/></g>
<g stroke="#ec1c24"><use href="#xx" x="345.5" y="1643.3"/><use href="#xx" x="515.4" y="1594.5"/><use href="#xx" x="597.6" y="1608.1"/><use href="#xx" x="765.9" y="1607.0"/><use href="#xx" x="822.6" y="1551.4"/><use href="#xx" x="870.3" y="1600.2"/><use href="#xx" x="891.9" y="1595.6"/><use href="#xx" x="944.2" y="1605.9"/><use href="#xx" x="964.6" y="1607.0"/><use href="#xx" x="971.4" y="1594.5"/><use href="#xx" x="980.5" y="1586.6"/><use href="#xx" x="982.8" y="1587.3"/><use href="#xx" x="986.4" y="1616.9"/><use href="#xx" x="999.8" y="1613.8"/><use href="#xx" x="1002.7" y="1612.9"/><use href="#xx" x="1038.7" y="1615.7"/><use href="#xx" x="1053.8" y="1580.7"/><use href="#xx" x="1071.8" y="1583.5"/><use href="#xx" x="1070.8" y="1600.6"/><use href="#xx" x="1093.5" y="1575.0"/><use href="#xx" x="1069.9" y="1627.1"/><use href="#xx" x="1077.5" y="1620.4"/><use href="#xx" x="1121.0" y="1593.0"/><use href="#xx" x="1101.1" y="1610.0"/><use href="#xx" x="1110.6" y="1610.0"/><use href="#xx" x="1104.9" y="1631.8"/><use href="#xx" x="1120.0" y="1651.7"/><use href="#xx" x="1127.6" y="1649.8"/><use href="#xx" x="1112.5" y="1664.9"/><use href="#xx" x="1139.0" y="1629.0"/><use href="#xx" x="1160.7" y="1648.8"/><use href="#xx" x="1178.7" y="1634.6"/><use href="#xx" x="1180.6" y="1666.8"/><use href="#xx" x="1190.1" y="1666.8"/><use href="#xx" x="1180.6" y="1680.0"/><use href="#xx" x="1195.7" y="1647.9"/><use href="#xx" x="1195.5" y="1704.3"/><use href="#xx" x="1180.6" y="1619.5"/><use href="#xx" x="1164.0" y="1649.5"/><use href="#xx" x="1214.7" y="1627.1"/><use href="#xx" x="1216.5" y="1723.8"/><use href="#xx" x="1226.6" y="1769.1"/></g>
<g fill="#3b50a8"><use href="#st" x="1137.1" y="1612.0"/><use href="#st" x="1154.1" y="1606.3"/><use href="#st" x="1163.6" y="1606.3"/><use href="#st" x="1192.9" y="1621.5"/></g>
<g fill="#ec1c24"><use href="#st" x="1035.8" y="1595.9"/><use href="#st" x="1192.0" y="1608.2"/><use href="#st" x="1219.5" y="1679.7"/><use href="#st" x="1219.0" y="1696.6"/><use href="#st" x="1214.2" y="1753.5"/><use href="#st" x="1248.0" y="1759.6"/></g>
<text x="167.8" y="1811.0" font-size="29" text-anchor="middle">0</text>
<text x="329.8" y="1811.0" font-size="29" text-anchor="middle">5</text>
<text x="491.7" y="1811.0" font-size="29" text-anchor="middle">10</text>
<text x="653.7" y="1811.0" font-size="29" text-anchor="middle">15</text>
<text x="815.6" y="1811.0" font-size="29" text-anchor="middle">20</text>
<text x="977.5" y="1811.0" font-size="29" text-anchor="middle">25</text>
<text x="1139.5" y="1811.0" font-size="29" text-anchor="middle">30</text>
<text x="1301.5" y="1811.0" font-size="29" text-anchor="middle">35</text>
<text x="154" y="1780.3" font-size="29" text-anchor="end">60</text>
<text x="154" y="1701.3" font-size="29" text-anchor="end">80</text>
<text x="154" y="1624.3" font-size="29" text-anchor="end">100</text>
<text x="0" y="24.2" font-size="31" font-weight="bold">A</text>
<text x="0" y="320" font-size="31" font-weight="bold">B</text>
<text x="0" y="631" font-size="31" font-weight="bold">C</text>
<text x="0" y="940.5" font-size="31" font-weight="bold">D</text>
<text x="0" y="1233" font-size="31" font-weight="bold">E</text>
<text x="0" y="1513" font-size="31" font-weight="bold">F</text>
<text transform="translate(73,160) rotate(-90)" font-size="32.5" font-weight="bold" text-anchor="middle">Alk ( <tspan font-family="&quot;Liberation Serif&quot;, serif" font-style="italic" font-weight="bold">μ</tspan>mol kg<tspan dy="-15" font-size="23">-1</tspan><tspan dy="15">)</tspan></text>
<text transform="translate(73,460) rotate(-90)" font-size="32.5" font-weight="bold" text-anchor="middle">DIC ( <tspan font-family="&quot;Liberation Serif&quot;, serif" font-style="italic" font-weight="bold">μ</tspan>mol kg<tspan dy="-15" font-size="23">-1</tspan><tspan dy="15">)</tspan></text>
<text transform="translate(61,763) rotate(-90)" font-size="32.5" font-weight="bold" text-anchor="middle"><tspan font-style="italic">p</tspan>CO<tspan dy="15" font-size="25">2</tspan><tspan dy="-15"> ( </tspan><tspan font-family="&quot;Liberation Serif&quot;, serif" font-style="italic" font-weight="bold">μ</tspan>atm)</text>
<text transform="translate(84.5,1061) rotate(-90)" font-size="32.5" font-weight="bold" text-anchor="middle">pH<tspan dy="15" font-size="26">T</tspan></text>
<text transform="translate(108.8,1360) rotate(-90)" font-size="32.5" font-weight="bold" text-anchor="middle"><tspan font-family="&quot;Liberation Serif&quot;, serif" font-size="35">Ω</tspan><tspan dy="14.5" font-size="29" letter-spacing="0.5">aragonite</tspan></text>
<text transform="translate(74.8,1664) rotate(-90)" font-size="32.5" font-weight="bold" text-anchor="middle">O<tspan dy="15.6" font-size="26">2</tspan><tspan dy="-15.6"> Saturation (%)</tspan></text>
<text x="734" y="1853.5" font-size="32" font-weight="bold" text-anchor="middle">Salinity</text>
<text x="1188" y="119.3" font-size="30" font-weight="bold" fill="#3b50a8">Wet</text>
<text x="1188" y="158.5" font-size="30" font-weight="bold" fill="#ec1c24">Dry</text>
<text x="189.5" y="1586.5" font-size="30" font-weight="bold">f</text>
</svg></body></html>
